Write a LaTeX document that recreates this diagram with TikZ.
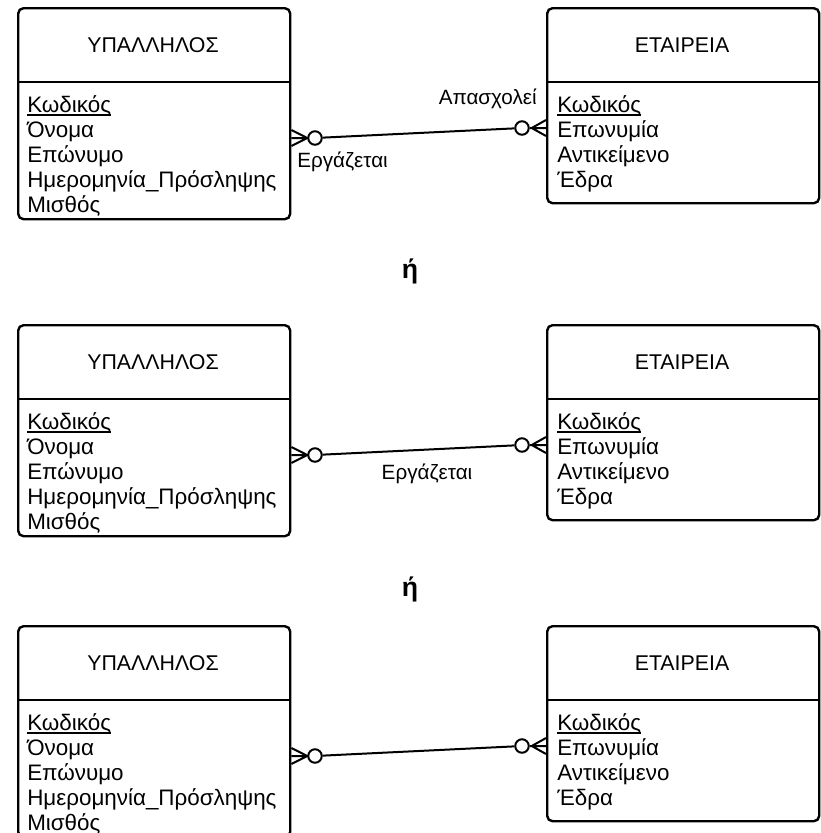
\documentclass[tikz,border=0pt]{standalone}
\usepackage{fontspec}
\setmainfont{Liberation Sans}
\newcommand\uline[1]{\setbox0\hbox{#1}\rlap{\vrule height -1.6pt depth 2.7pt width \wd0}\box0}
\newcommand\ergroup[2]{%
  \begin{scope}[yshift=-#2*0.75pt]
    % entity boxes
    \node[ent, anchor=north west, minimum width=272*0.75pt, minimum height=211*0.75pt] (emp#1) at (17,7) {};
    \node[ent, anchor=north west, minimum width=272*0.75pt, minimum height=195*0.75pt] (com#1) at (546,7) {};
    \draw[sep] (emp#1.west |- 0,82) -- (emp#1.east |- 0,82);
    \draw[sep] (com#1.west |- 0,82) -- (com#1.east |- 0,82);
    % titles
    \node[ttl] (empt#1) at (153,45) {ΥΠΑΛΛΗΛΟΣ};
    \node[ttl] (comt#1) at (682,45) {ΕΤΑΙΡΕΙΑ};
    % attributes
    \node[attr] (ea#1) at (27,112) {\uline{Κωδικός}};
    \node[attr] (eb#1) at (27,137) {Όνομα};
    \node[attr] (ec#1) at (27,162) {Επώνυμο};
    \node[attr] (ed#1) at (27,187) {Ημερομηνία\_Πρόσληψης};
    \node[attr] (ee#1) at (27,212) {Μισθός};
    \node[attr] (ca#1) at (557,112) {\uline{Κωδικός}};
    \node[attr] (cb#1) at (557,137) {Επωνυμία};
    \node[attr] (cc#1) at (557,162) {Αντικείμενο};
    \node[attr] (cd#1) at (557,187) {Έδρα};
    % relationship
    \coordinate (L#1) at (emp#1.east |- 0,138);
    \coordinate (R#1) at (com#1.west |- 0,128);
    \node[ring] (lc#1) at (315,138) {};
    \node[ring] (rc#1) at (522,128) {};
    \draw[rel] (lc#1) -- (rc#1);
    \draw[rel] ($(L#1)+(0,-8)$) -- (lc#1.west) -- ($(L#1)+(0,8)$)
               (L#1) -- (lc#1.west);
    \draw[rel] ($(R#1)+(0,-8)$) -- ($(rc#1.east)+(2,0)$) -- ($(R#1)+(0,8)$)
               (R#1) -- (rc#1.east);
  \end{scope}}
\usetikzlibrary{calc}
\begin{document}
\begin{tikzpicture}[x=0.75pt,y=-0.75pt,
  ent/.style={draw, line width=1.8pt, rounded corners=4pt, inner sep=0pt},
  sep/.style={line width=1.8pt},
  ttl/.style={font=\fontsize{16}{18}\selectfont, inner sep=0pt},
  attr/.style={font=\fontsize{16.8}{18}\selectfont, anchor=base west, inner sep=0pt},
  lbl/.style={font=\fontsize{15.5}{18}\selectfont, inner sep=0pt},
  orl/.style={font=\fontsize{20}{22}\selectfont\bfseries, inner sep=0pt, anchor=base},
  rel/.style={line width=1.5pt},
  ring/.style={circle, draw, line width=1.5pt, minimum size=13.5*0.75pt, inner sep=0pt, fill=white},
]
\useasboundingbox (0,0) rectangle (821,833);
\ergroup{a}{0}
\ergroup{b}{317}
\ergroup{c}{618}
\node[lbl, anchor=base east] (apa) at (537,104) {Απασχολεί};
\node[lbl, anchor=base west] (erga) at (297,167) {Εργάζεται};
\node[lbl, anchor=base] (ergb) at (427,479) {Εργάζεται};
\node[orl] (ora) at (410,278) {ή};
\node[orl] (orb) at (410,596) {ή};
\end{tikzpicture}
\end{document}
